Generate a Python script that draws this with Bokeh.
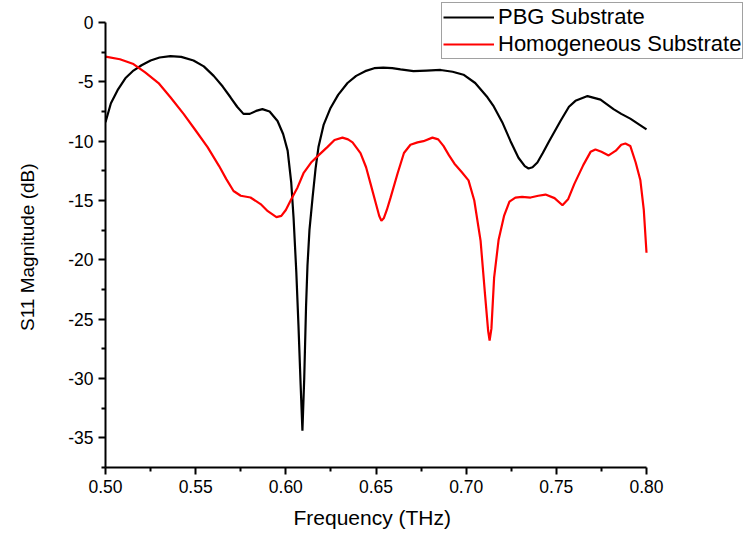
from bokeh.plotting import figure
from bokeh.models import FixedTicker, Range1d, Legend, LegendItem, Title
from bokeh.embed import file_html
from bokeh.resources import INLINE

# ---- data ----
pbg_freq = [0.500, 0.5030, 0.5067, 0.5110, 0.5155, 0.5200, 0.5250, 0.5300, 0.5360, 0.5420,
            0.5488, 0.5545, 0.5600, 0.5650, 0.5693, 0.5730, 0.5765, 0.5800, 0.5835, 0.5870,
            0.5910, 0.5954, 0.5985, 0.6010, 0.6030, 0.6043, 0.6058, 0.6070, 0.6082, 0.6092,
            0.6102, 0.6112, 0.6120, 0.6131, 0.6148, 0.6165, 0.6181, 0.6210, 0.6248, 0.6290,
            0.6342, 0.6390, 0.6440, 0.6490, 0.6540, 0.6590, 0.6636, 0.6708, 0.6780, 0.6858,
            0.6925, 0.6985, 0.7050, 0.7118, 0.7150, 0.7200, 0.7246, 0.7290, 0.7325, 0.7346,
            0.7368, 0.7395, 0.7425, 0.7460, 0.7523, 0.7570, 0.7606, 0.7673, 0.7745, 0.7817,
            0.7860, 0.7910, 0.7960, 0.8000]
pbg_s11 = [-8.4, -6.8, -5.7, -4.7, -4.05, -3.6, -3.2, -2.95, -2.84, -2.9,
           -3.2, -3.7, -4.5, -5.4, -6.3, -7.1, -7.7, -7.7, -7.45, -7.3,
           -7.5, -8.3, -9.4, -10.8, -13.5, -16.5, -21.0, -25.5, -30.5, -34.4,
           -30.0, -24.0, -20.5, -17.5, -14.8, -12.3, -10.5, -8.6, -7.2, -6.1,
           -5.1, -4.5, -4.1, -3.85, -3.8, -3.85, -3.95, -4.1, -4.05, -4.0,
           -4.15, -4.4, -5.1, -6.3, -7.0, -8.4, -10.0, -11.4, -12.1, -12.3,
           -12.2, -11.8, -11.0, -10.0, -8.3, -7.1, -6.6, -6.2, -6.5, -7.3,
           -7.7, -8.1, -8.6, -9.0]

homo_freq = [0.500, 0.5080, 0.5155, 0.5220, 0.5294, 0.5360, 0.5433, 0.5500, 0.5566, 0.5630,
             0.5670, 0.5710, 0.5750, 0.5804, 0.5860, 0.5900, 0.5948, 0.5975, 0.6000, 0.6030,
             0.6065, 0.6098, 0.6140, 0.6181, 0.6230, 0.6270, 0.6314, 0.6345, 0.6370, 0.6414,
             0.6445, 0.6470, 0.6500, 0.6518, 0.6530, 0.6543, 0.6560, 0.6580, 0.6620, 0.6655,
             0.6691, 0.6730, 0.6763, 0.6813, 0.6845, 0.6874, 0.6905, 0.6935, 0.6975, 0.7013,
             0.7045, 0.7080, 0.7105, 0.7122, 0.7130, 0.7140, 0.7155, 0.7180, 0.7210, 0.7240,
             0.7273, 0.7310, 0.7357, 0.7400, 0.7440, 0.7490, 0.7534, 0.7565, 0.7600, 0.7650,
             0.7690, 0.7717, 0.7750, 0.7790, 0.7830, 0.7860, 0.7883, 0.7910, 0.7940, 0.7966,
             0.7985, 0.8000]
homo_s11 = [-2.87, -3.1, -3.5, -4.2, -5.1, -6.3, -7.7, -9.1, -10.5, -12.1,
            -13.2, -14.2, -14.6, -14.75, -15.3, -15.9, -16.4, -16.3, -15.8, -14.9,
            -13.9, -12.7, -11.8, -11.2, -10.5, -9.9, -9.7, -9.85, -10.1, -11.0,
            -12.2, -13.6, -15.3, -16.3, -16.7, -16.5, -15.8, -14.8, -12.7, -11.0,
            -10.3, -10.1, -10.0, -9.7, -9.85, -10.4, -11.2, -11.9, -12.6, -13.3,
            -15.0, -18.4, -23.0, -26.0, -26.8, -25.8, -21.5, -18.3, -16.3, -15.1,
            -14.75, -14.7, -14.75, -14.6, -14.5, -14.8, -15.4, -14.9, -13.6, -12.0,
            -10.9, -10.7, -10.9, -11.2, -10.8, -10.3, -10.2, -10.4, -11.8, -13.3,
            -15.8, -19.4]

x_ticks = [0.50, 0.55, 0.60, 0.65, 0.70, 0.75, 0.80]
x_tick_labels = ["0.50", "0.55", "0.60", "0.65", "0.70", "0.75", "0.80"]
x_minor = [0.525, 0.575, 0.625, 0.675, 0.725, 0.775]
y_ticks = [0, -5, -10, -15, -20, -25, -30, -35]
y_tick_labels = ["0", "-5", "-10", "-15", "-20", "-25", "-30", "-35"]
y_minor = [-2.5, -7.5, -12.5, -17.5, -22.5, -27.5, -32.5, -37.5]

series_names = ["PBG Substrate", "Homogeneous Substrate"]
x_title = "Frequency (THz)"
y_title = "S11 Magnitude (dB)"

FONT = "Liberation Sans"

# frame spans to the right/top edge so the legend is not clipped; axes are bounded
X0, X1 = 0.5, 0.8
Y0, Y1 = -37.5, 0.0
x_end = X0 + (X1 - X0) * 641.0 / 541.0
y_top = Y1 + (Y1 - Y0) * 22.0 / 445.0

p = figure(width=746, height=543, output_backend="svg", toolbar_location=None,
           x_range=Range1d(X0, x_end), y_range=Range1d(Y0, y_top),
           min_border_left=105, min_border_right=0, min_border_top=0,
           min_border_bottom=76)
p.outline_line_color = None
p.xgrid.visible = False
p.ygrid.visible = False
p.background_fill_color = "white"
p.border_fill_color = "white"

r1 = p.line(pbg_freq, pbg_s11, line_color="black", line_width=2.2)
r2 = p.line(homo_freq, homo_s11, line_color="#ff0000", line_width=2.2)

for ax, ticks, minor, labels, bnds in ((p.xaxis[0], x_ticks, x_minor, x_tick_labels, (X0, X1)),
                                       (p.yaxis[0], y_ticks, y_minor, y_tick_labels, (Y0, Y1))):
    ax.bounds = bnds
    ax.ticker = FixedTicker(ticks=ticks, minor_ticks=minor)
    ax.major_label_overrides = {t: l for t, l in zip(ticks, labels)}
    ax.axis_line_width = 2
    ax.axis_line_color = "black"
    ax.major_tick_line_width = 2
    ax.minor_tick_line_width = 2
    ax.major_tick_out = 7
    ax.major_tick_in = 0
    ax.minor_tick_out = 4
    ax.minor_tick_in = 0
    ax.major_label_text_font = FONT
    ax.major_label_text_font_size = "17.5px"
    ax.major_label_text_color = "black"

p.xaxis[0].major_label_standoff = 5
p.yaxis[0].major_label_standoff = 5

# y title: axis label (trailing no-break spaces move the visible text down to
# the centre of the bounded axis, since the frame extends above it)
yax = p.yaxis[0]
yax.axis_label = y_title + "\u00a0" * 5
yax.axis_label_text_font = FONT
yax.axis_label_text_font_size = "19px"
yax.axis_label_text_font_style = "normal"
yax.axis_label_text_color = "black"
yax.axis_label_standoff = 27

# x title: placed under the bounded x axis
xt = Title(text=x_title, align="left", offset=188, text_font=FONT,
           text_font_size="21px", text_font_style="normal", text_color="black",
           standoff=16, vertical_align="bottom")
p.add_layout(xt, "below")

legend = Legend(items=[LegendItem(label=series_names[0], renderers=[r1]),
                       LegendItem(label=series_names[1], renderers=[r2])],
                location=(336, 408), orientation="vertical")
legend.label_text_font = FONT
legend.label_text_font_size = "22px"
legend.label_text_color = "black"
legend.glyph_width = 51
legend.glyph_height = 22
legend.label_height = 22
legend.label_standoff = 4
legend.spacing = 1
legend.padding = 1
legend.margin = 0
legend.border_line_color = "#444444"
legend.border_line_width = 1
legend.background_fill_color = "white"
legend.background_fill_alpha = 1.0
p.add_layout(legend, "center")

open("out.html", "w").write(file_html(p, INLINE))
